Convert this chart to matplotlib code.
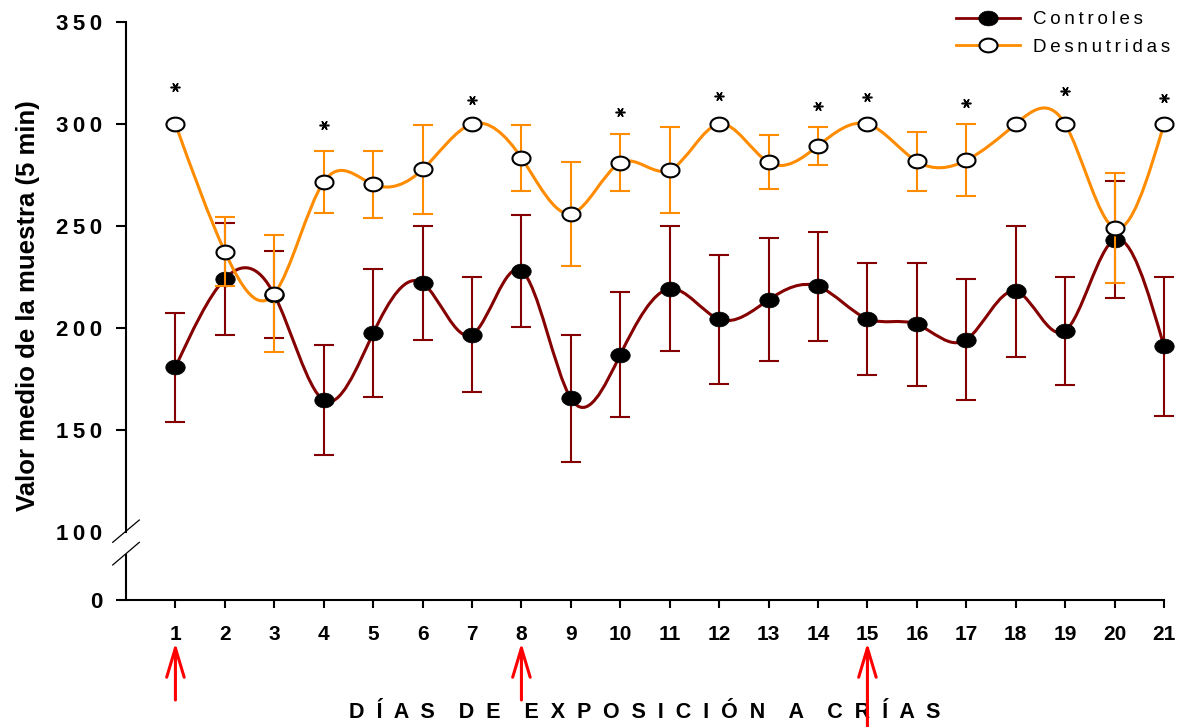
import numpy as np
import matplotlib
matplotlib.use('Agg')
import matplotlib.pyplot as plt
from matplotlib.path import Path
from matplotlib.patches import PathPatch
from matplotlib.lines import Line2D

plt.rcParams['font.family'] = ['Liberation Sans', 'DejaVu Sans']

# data
days = np.arange(1, 22)
ctrl_mean = [180.8, 224.1, 216.3, 164.6, 197.4, 222.0, 196.8, 228.1, 165.5, 186.9, 219.2,
             204.3, 213.8, 220.4, 204.5, 201.8, 194.3, 218.0, 198.6, 243.3, 191.0]
ctrl_se = [26.7, 27.6, 21.4, 27.0, 31.4, 27.8, 28.4, 27.5, 31.0, 30.7, 30.7,
           31.6, 30.1, 26.7, 27.6, 30.0, 29.5, 32.0, 26.6, 28.6, 34.0]
desn_mean = [300.0, 237.4, 216.8, 271.6, 270.4, 277.7, 300.0, 283.4, 256.1, 281.0, 277.4,
             300.0, 281.2, 289.3, 300.0, 281.7, 282.2, 300.0, 300.0, 249.0, 300.0]
desn_se = [0, 16.8, 28.6, 15.2, 16.5, 21.8, 0, 16.2, 25.5, 14.0, 21.0,
           0, 13.3, 9.3, 0, 14.6, 17.6, 0, 0, 26.8, 0]
star_days = [1, 4, 7, 10, 12, 14, 15, 17, 19, 21]
star_y = [318, 299.4, 311.8, 305.7, 313.8, 308.8, 313.4, 310.2, 316.4, 312.6]
arrow_days = [1, 8, 15]
arrow_tails = [-0.173, -0.173, -0.22]
yticks = [0, 100, 150, 200, 250, 300, 350]

CTRL = '#850000'
DESN = '#FF8C00'


def spread(s):
    # letter spacing like the original
    return '\u2009'.join(s)


def fwd(v):
    v = np.asarray(v, float)
    return np.where(v >= 100, v, 100 - (100 - v) / 3.0)


def inv(u):
    u = np.asarray(u, float)
    return np.where(u >= 100, u, 100 - (100 - u) * 3.0)


def spline_path(x, y):
    # natural cubic spline through the points, written as bezier segments
    x = np.asarray(x, float)
    y = np.asarray(y, float)
    n = len(y)
    A = np.zeros((n, n))
    b = np.zeros(n)
    A[0, 0] = A[-1, -1] = 1
    for i in range(1, n - 1):
        A[i, i - 1:i + 2] = [1, 4, 1]
        b[i] = 6 * (y[i + 1] - 2 * y[i] + y[i - 1])
    M = np.linalg.solve(A, b)
    d = np.empty(n)
    d[:-1] = (y[1:] - y[:-1]) - (2 * M[:-1] + M[1:]) / 6
    d[-1] = (y[-1] - y[-2]) + (M[-2] + 2 * M[-1]) / 6
    verts = [(x[0], y[0])]
    codes = [Path.MOVETO]
    for i in range(n - 1):
        verts += [(x[i] + 1 / 3, y[i] + d[i] / 3),
                  (x[i + 1] - 1 / 3, y[i + 1] - d[i + 1] / 3),
                  (x[i + 1], y[i + 1])]
        codes += [Path.CURVE4] * 3
    return Path(verts, codes)


t = np.linspace(0, 2 * np.pi, 64)
ellipse = Path(np.column_stack([np.cos(t), 0.76 * np.sin(t)]))

fig = plt.figure(figsize=(11.81, 7.27), dpi=100)
ax = fig.add_axes([126 / 1181, 1 - 600 / 727, 1038 / 1181, 578 / 727])
ax.set_yscale('function', functions=(fwd, inv))
ax.set_xlim(0, 21)
ax.set_ylim(0, 350)

series = [(ctrl_mean, ctrl_se, CTRL, 'black', 14, 'Controles'),
          (desn_mean, desn_se, DESN, 'white', 13, 'Desnutridas')]
handles = []
for mean, se, col, face, ms, name in series:
    mean = np.array(mean)
    se = np.array(se)
    m = se > 0
    eb = ax.errorbar(days[m], mean[m], yerr=se[m], fmt='none', ecolor=col,
                     elinewidth=1.5, capsize=7.5, capthick=1.5)
    for a in eb.get_children():
        a.set_clip_on(False)
    ax.add_patch(PathPatch(spline_path(days, mean), facecolor='none',
                           edgecolor=col, lw=2.2, clip_on=False))
    mew = 1.5 if face == 'white' else 0.5
    ax.plot(days, mean, ls='none', marker=ellipse, ms=ms, mfc=face,
            mec='black', mew=mew, clip_on=False)
    handles.append(Line2D([], [], color=col, lw=2, marker=ellipse, ms=ms,
                          mfc=face, mec='black', mew=mew,
                          label=spread(name)))

# significance stars
ax.plot(star_days, star_y, ls='none', marker=(6, 2, 90), ms=7, mew=1.1,
        color='black', clip_on=False)

# axes styling with the broken y axis
for s in ['top', 'right']:
    ax.spines[s].set_visible(False)
for s in ['left', 'bottom']:
    ax.spines[s].set_linewidth(1.5)
ax.spines['left'].set_bounds(100, 350)
ax.plot([0, 0], [0, 68], color='black', lw=1.5, clip_on=False,
        solid_capstyle='butt')
ax.plot([-0.0128, 0.0128], [0.0998, 0.1384], color='black', lw=0.9,
        transform=ax.transAxes, clip_on=False)
ax.plot([-0.0128, 0.0128], [0.0606, 0.0998], color='black', lw=0.9,
        transform=ax.transAxes, clip_on=False)

ax.set_yticks(yticks, [spread(str(v)) for v in yticks])
ax.set_xticks(days, [str(d) for d in days])
ax.tick_params(axis='y', direction='out', length=7, width=1.5, pad=10,
               labelsize=16)
ax.tick_params(axis='x', direction='out', length=6, width=1.5, pad=12,
               labelsize=15)
ax.yaxis.get_major_ticks()[1].tick1line.set_visible(False)
for lab in ax.get_xticklabels() + ax.get_yticklabels():
    lab.set_fontweight('bold')

ax.set_ylabel('Valor medio de la muestra (5 min)', fontsize=18.5,
              fontweight='bold')
ax.yaxis.set_label_coords(-0.083, 0.51)
ax.set_xlabel('D  Í  A  S    D  E    E  X  P  O  S  I  C  I  Ó  N    A    C  R  Í  A  S',
              fontsize=15.5, fontweight='bold')
ax.xaxis.set_label_coords(0.5, -0.177)

# red arrows under days 1, 8, 15
for d, tail in zip(arrow_days, arrow_tails):
    ax.annotate('', xy=(d, -0.074), xytext=(d, tail),
                xycoords=ax.get_xaxis_transform(),
                textcoords=ax.get_xaxis_transform(),
                annotation_clip=False,
                arrowprops=dict(arrowstyle='->,head_length=1.5,head_width=0.45',
                                color='red', lw=2.2, mutation_scale=14,
                                shrinkA=0, shrinkB=0))

ax.legend(handles=handles, loc='upper right', bbox_to_anchor=(1.0, 1.0),
          bbox_transform=fig.transFigure, frameon=False, fontsize=13.5,
          handlelength=3.4, handletextpad=0.7, labelspacing=0.55,
          borderaxespad=0.2)

fig.savefig('out.png', dpi=100)
